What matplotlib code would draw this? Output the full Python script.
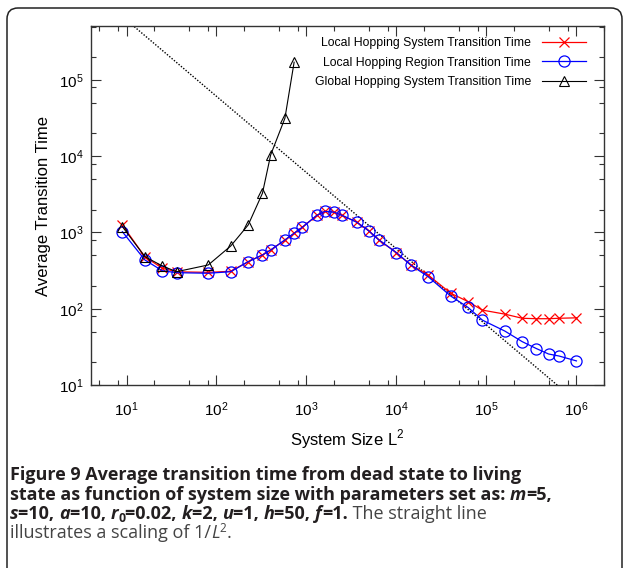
import matplotlib
matplotlib.use("Agg")
import matplotlib.pyplot as plt
import matplotlib.patches as mpatches
import matplotlib.transforms as mtransforms
from matplotlib.ticker import LogLocator, NullFormatter
import numpy as np

# data
system_size = [9, 16, 25, 36, 81, 144, 225, 324, 400, 576, 729, 900, 1296, 1600,
               2025, 2500, 3600, 4900, 6400, 10000, 14400, 22500, 40000, 62500,
               90000, 160000, 250000, 360000, 490000, 640000, 1000000]
local_system = [1250, 480, 340, 305, 300, 310, 414, 507, 589, 797, 977, 1170, 1670,
                1890, 1850, 1670, 1370, 1057, 797, 543, 375, 277, 160, 124, 96,
                85, 75, 74, 74, 75, 76]
local_region = [1023, 436, 315, 297, 292, 306, 414, 507, 589, 797, 977, 1170, 1670,
                1890, 1850, 1670, 1370, 1057, 797, 543, 375, 263, 147, 104, 71,
                51, 37, 30, 25.5, 24, 20.7]
global_size = [9, 16, 25, 36, 81, 144, 225, 324, 400, 576, 729]
global_system = [1192, 482, 364, 306, 375, 665, 1254, 3265, 10400, 31500, 171000]
scaling_const = 6.1e6  # dotted 1/L^2 guide line

labels = ["Local Hopping System Transition Time",
          "Local Hopping Region Transition Time",
          "Global Hopping System Transition Time"]

W, H = 624, 568
plt.rcParams["font.family"] = ["Liberation Sans", "DejaVu Sans"]
plt.rcParams["mathtext.fontset"] = "custom"
plt.rcParams["mathtext.rm"] = "Liberation Sans"

fig = plt.figure(figsize=(W / 100, H / 100), dpi=100)
ax = fig.add_axes([90.7 / W, 1 - 385 / H, (603.5 - 90.7) / W, (385 - 26) / H])

xs = np.logspace(0, 7, 50)
ax.plot(xs, scaling_const / xs, color="black", ls=(0, (1, 1.2)), lw=1.0)
ax.plot(system_size, local_system, color="red", marker="x", ms=7, mew=0.9,
        lw=0.9, label=labels[0])
ax.plot(system_size, local_region, color="blue", marker="o", ms=8, mfc="none",
        mew=0.9, lw=0.9, label=labels[1])
ax.plot(global_size, global_system, color="black", marker="^", ms=7, mfc="none",
        mew=0.8, lw=0.8, label=labels[2])

ax.set_xscale("log")
ax.set_yscale("log")
ax.set_xlim(4, 2e6)
ax.set_ylim(10, 5.1e5)

for axis in (ax.xaxis, ax.yaxis):
    axis.set_major_locator(LogLocator(base=10, numticks=20))
    axis.set_minor_locator(LogLocator(base=10, subs=[2, 5, 8], numticks=20))
    axis.set_minor_formatter(NullFormatter())
ax.tick_params(which="both", direction="in", top=True, right=True,
               color="#333333", labelsize=11)
ax.tick_params(which="major", length=7, width=0.8)
ax.tick_params(which="minor", length=3.5, width=0.8)
ax.tick_params(axis="x", pad=11)
ax.tick_params(axis="y", pad=5)
for sp in ax.spines.values():
    sp.set_color("#333333")
    sp.set_linewidth(1.0)

ax.set_xlabel("System Size L$^2$", fontsize=12, labelpad=6)
ax.set_ylabel("Average Transition Time", fontsize=12, labelpad=6)

ax.legend(loc="upper right", bbox_to_anchor=(586 / W, 1 - 37 / H),
          bbox_transform=fig.transFigure, frameon=False, markerfirst=False,
          handlelength=3.6, handletextpad=0.9, labelspacing=0.62, borderpad=0,
          borderaxespad=0, fontsize=8.8, numpoints=1)

# rounded border around the figure panel
border = mpatches.FancyBboxPatch((7, -30), 615, H - 8 + 30,
                                 boxstyle="round,pad=0,rounding_size=11",
                                 transform=mtransforms.IdentityTransform(),
                                 fill=False, ec="#222222", lw=1.1)
fig.add_artist(border)

# caption, drawn piece by piece
renderer = fig.canvas.get_renderer()
cap_size = 13
bold_c = "#231f20"
reg_c = "#444444"


def piece_width(txt, **kw):
    t1 = fig.text(0, 0, "|" + txt + "|", **kw)
    t2 = fig.text(0, 0, "||", **kw)
    w = t1.get_window_extent(renderer).width - t2.get_window_extent(renderer).width
    t1.remove()
    t2.remove()
    return w


def draw_line(x0, y, runs):
    x = x0
    for txt, weight, style, color, scale, dy in runs:
        kw = dict(family="Open Sans", fontsize=cap_size * scale, weight=weight,
                  style=style, color=color)
        fig.text(x / W, 1 - (y + dy) / H, txt, va="baseline", ha="left", **kw)
        x += piece_width(txt, **kw)


B, I, R = "bold", "italic", "normal"
lines = [
    [("Figure 9 Average transition time from dead state to living", B, R, bold_c, 1, 0)],
    [("state as function of system size with parameters set as: ", B, R, bold_c, 1, 0),
     ("m", B, I, bold_c, 1, 0), ("=5,", B, R, bold_c, 1, 0)],
    [("s", B, I, bold_c, 1, 0), ("=10, ", B, R, bold_c, 1, 0),
     ("a", B, I, bold_c, 1, 0), ("=10, ", B, R, bold_c, 1, 0),
     ("r", B, I, bold_c, 1, 0), ("0", B, R, bold_c, 0.68, 3),
     ("=0.02, ", B, R, bold_c, 1, 0),
     ("k", B, I, bold_c, 1, 0), ("=2, ", B, R, bold_c, 1, 0),
     ("u", B, I, bold_c, 1, 0), ("=1, ", B, R, bold_c, 1, 0),
     ("h", B, I, bold_c, 1, 0), ("=50, ", B, R, bold_c, 1, 0),
     ("f", B, I, bold_c, 1, 0), ("=1.", B, R, bold_c, 1, 0),
     (" The straight line", R, R, reg_c, 1, 0)],
    [("illustrates a scaling of 1/", R, R, reg_c, 1, 0), ("L", R, I, reg_c, 1, 0),
     ("2", R, R, reg_c, 0.65, -6), (".", R, R, reg_c, 1, 0)],
]
baselines = [480, 499.5, 519, 538.5]
for yb, runs in zip(baselines, lines):
    draw_line(10, yb, runs)

fig.savefig("out.png", dpi=100)
